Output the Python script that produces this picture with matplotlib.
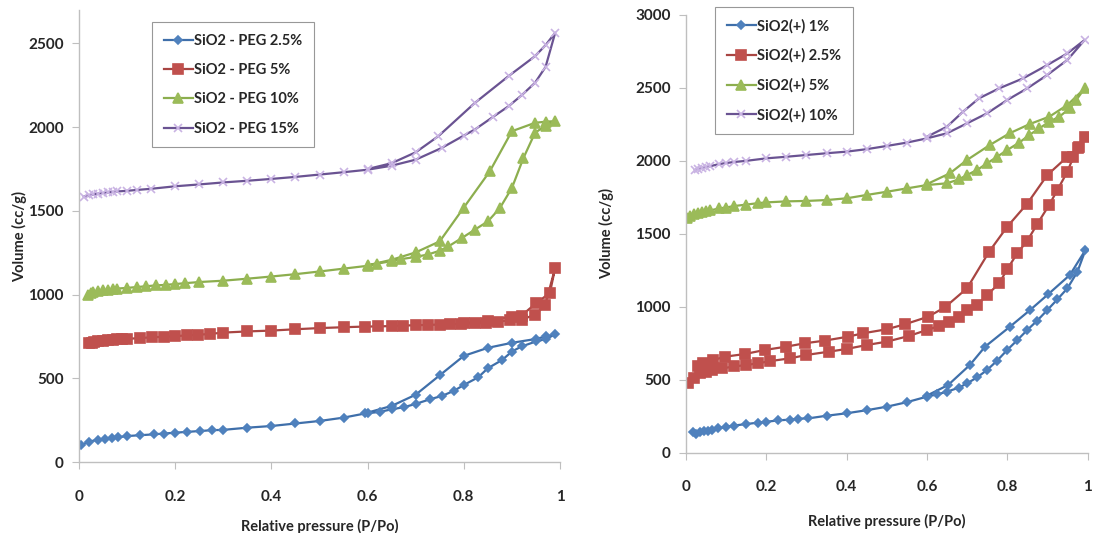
import matplotlib.pyplot as plt

plt.rcParams['font.family'] = ['Lato', 'DejaVu Sans']

# ---- left panel: SiO2 - PEG ----
peg_labels = ["SiO2 - PEG 2.5%", "SiO2 - PEG 5%", "SiO2 - PEG 10%", "SiO2 - PEG 15%"]

peg25_p = [0.005, 0.02, 0.04, 0.054, 0.068, 0.082, 0.10, 0.127, 0.155, 0.176, 0.20, 0.224, 0.252, 0.276, 0.30,
           0.35, 0.40, 0.45, 0.50, 0.55, 0.595, 0.625, 0.65, 0.675, 0.70, 0.73, 0.755, 0.78, 0.80, 0.83, 0.85,
           0.88, 0.90, 0.92, 0.95, 0.97, 0.99,
           0.97, 0.95, 0.90, 0.85, 0.80, 0.75, 0.70, 0.65, 0.60]
peg25_v = [100, 122, 132, 138, 143, 148, 155, 160, 165, 170, 175, 180, 185, 190, 192,
           205, 215, 230, 245, 265, 290, 299, 315, 327, 347, 375, 395, 426, 460, 506, 560,
           610, 660, 690, 720, 734, 762,
           750, 735, 712, 682, 634, 518, 402, 335, 295]

peg5_p = [0.02, 0.026, 0.032, 0.04, 0.05, 0.06, 0.07, 0.08, 0.09, 0.10, 0.127, 0.151, 0.176, 0.20, 0.224, 0.248,
          0.272, 0.30, 0.35, 0.40, 0.45, 0.50, 0.55, 0.594, 0.622, 0.65, 0.674, 0.70, 0.726, 0.75, 0.771, 0.795,
          0.823, 0.847, 0.872, 0.896, 0.92, 0.948, 0.969, 0.99,
          0.979, 0.951, 0.92, 0.90, 0.85, 0.80]
peg5_v = [710, 713, 716, 720, 724, 727, 730, 732, 734, 736, 740, 745, 748, 752, 756, 760,
          765, 773, 780, 785, 793, 800, 805, 809, 810, 812, 815, 817, 819, 821, 823, 825,
          828, 832, 838, 848, 850, 880, 935, 1160,
          1010, 950, 875, 868, 845, 830]

peg10_p = [0.019, 0.025, 0.03, 0.04, 0.05, 0.06, 0.07, 0.08, 0.10, 0.12, 0.14, 0.16, 0.18, 0.20, 0.22, 0.25,
           0.30, 0.35, 0.40, 0.45, 0.50, 0.55, 0.60, 0.62, 0.65, 0.67, 0.70, 0.726, 0.75, 0.768, 0.796, 0.823,
           0.85, 0.875, 0.90, 0.924, 0.948, 0.97, 0.99,
           0.97, 0.948, 0.90, 0.854, 0.80, 0.75, 0.70, 0.65, 0.60]
peg10_v = [1000, 1008, 1013, 1020, 1025, 1030, 1033, 1036, 1040, 1045, 1050, 1055, 1058, 1063, 1068, 1075,
           1083, 1095, 1108, 1122, 1138, 1155, 1172, 1185, 1200, 1212, 1225, 1240, 1262, 1288, 1338, 1388,
           1437, 1517, 1637, 1816, 1966, 2010, 2036,
           2033, 2026, 1976, 1736, 1520, 1318, 1252, 1208, 1175]

peg15_p = [0.01, 0.02, 0.03, 0.04, 0.05, 0.06, 0.07, 0.08, 0.10, 0.12, 0.15, 0.20, 0.25, 0.30, 0.35, 0.40,
           0.45, 0.50, 0.55, 0.60, 0.65, 0.70, 0.754, 0.80, 0.823, 0.86, 0.893, 0.92, 0.948, 0.97, 0.99,
           0.97, 0.948, 0.893, 0.823, 0.747, 0.70, 0.65, 0.60]
peg15_v = [1585, 1592, 1598, 1603, 1607, 1610, 1613, 1616, 1620, 1625, 1632, 1647, 1658, 1670, 1680, 1691,
           1703, 1717, 1731, 1746, 1770, 1806, 1876, 1950, 1986, 2060, 2125, 2190, 2265, 2360, 2564,
           2490, 2424, 2305, 2145, 1946, 1850, 1785, 1750]

# ---- right panel: SiO2(+) ----
plus_labels = ["SiO2(+) 1%", "SiO2(+) 2.5%", "SiO2(+) 5%", "SiO2(+) 10%"]

plus1_p = [0.018, 0.025, 0.035, 0.045, 0.055, 0.065, 0.08, 0.10, 0.12, 0.15, 0.18, 0.20, 0.23, 0.26, 0.28,
           0.305, 0.35, 0.40, 0.45, 0.50, 0.55, 0.60, 0.625, 0.65, 0.68, 0.70, 0.725, 0.75, 0.775, 0.80,
           0.825, 0.85, 0.875, 0.90, 0.925, 0.95, 0.975, 0.995,
           0.956, 0.902, 0.857, 0.807, 0.745, 0.707, 0.653, 0.60]
plus1_v = [143, 125, 138, 150, 145, 155, 165, 177, 185, 195, 205, 211, 220, 226, 232,
           234, 252, 269, 290, 314, 345, 383, 398, 417, 445, 474, 515, 566, 630, 703,
           770, 840, 905, 977, 1050, 1126, 1240, 1389,
           1217, 1085, 977, 863, 726, 600, 463, 390]

plus25_p = [0.006, 0.02, 0.035, 0.05, 0.065, 0.09, 0.12, 0.15, 0.18, 0.21, 0.26, 0.30, 0.355, 0.40, 0.45,
            0.50, 0.555, 0.60, 0.63, 0.655, 0.68, 0.70, 0.725, 0.75, 0.78, 0.80, 0.825, 0.85, 0.875, 0.905,
            0.925, 0.95, 0.965, 0.98, 0.993,
            0.977, 0.95, 0.90, 0.85, 0.80, 0.755, 0.70, 0.645, 0.603, 0.545, 0.50, 0.44, 0.403, 0.345,
            0.296, 0.25, 0.196, 0.146, 0.097, 0.068, 0.043, 0.03]
plus25_v = [474, 510, 543, 555, 565, 577, 590, 600, 612, 627, 646, 669, 691, 710, 737,
            760, 799, 840, 867, 897, 931, 977, 1011, 1080, 1160, 1256, 1366, 1452, 1567, 1700,
            1800, 1926, 2028, 2097, 2166,
            2086, 2028, 1903, 1707, 1548, 1377, 1126, 996, 931, 879, 845, 817, 794, 767,
            749, 726, 703, 675, 657, 634, 612, 590]

plus5_p = [0.002, 0.01, 0.02, 0.03, 0.04, 0.05, 0.06, 0.083, 0.10, 0.12, 0.15, 0.18, 0.20, 0.25, 0.30,
           0.35, 0.40, 0.45, 0.50, 0.55, 0.60, 0.65, 0.68, 0.70, 0.725, 0.75, 0.775, 0.80, 0.83, 0.855,
           0.88, 0.905, 0.93, 0.956, 0.972, 0.993,
           0.95, 0.905, 0.856, 0.806, 0.757, 0.70, 0.657, 0.60]
plus5_v = [1606, 1625, 1635, 1645, 1650, 1655, 1660, 1674, 1680, 1690, 1700, 1710, 1715, 1722, 1725,
           1731, 1743, 1766, 1788, 1811, 1834, 1846, 1873, 1903, 1937, 1983, 2028, 2074, 2125, 2177,
           2223, 2268, 2303, 2360, 2417, 2497,
           2383, 2303, 2252, 2189, 2109, 2006, 1914, 1840]

plus10_p = [0.022, 0.03, 0.04, 0.05, 0.06, 0.083, 0.10, 0.12, 0.15, 0.20, 0.25, 0.30, 0.35, 0.40, 0.45,
            0.50, 0.55, 0.60, 0.65, 0.70, 0.75, 0.80, 0.85, 0.90, 0.95, 0.993,
            0.95, 0.90, 0.84, 0.78, 0.73, 0.69, 0.65, 0.60]
plus10_v = [1937, 1945, 1952, 1958, 1963, 1978, 1985, 1992, 2000, 2017, 2028, 2040, 2052, 2063, 2080,
            2102, 2125, 2154, 2189, 2257, 2326, 2417, 2497, 2589, 2692, 2829,
            2737, 2657, 2566, 2497, 2429, 2337, 2234, 2165]

# line colour, marker colour, marker, marker size
styles = [
    ("#3F6FAA", "#4F81BD", "D", 4.5),
    ("#A84542", "#C0504D", "s", 6.5),
    ("#8CAE4E", "#9BBB59", "^", 6.5),
    ("#6A5392", "#C9B3E3", "x", 5.5),
]

text_color = "#262626"
spine_color = "#BFBFBF"

fig = plt.figure(figsize=(10.96, 5.33), dpi=100)
ax1 = fig.add_axes([79 / 1096, 1 - 462 / 533, 481 / 1096, 452 / 533])
ax2 = fig.add_axes([686 / 1096, 1 - 452.5 / 533, 401.5 / 1096, 437.5 / 533])


def draw_panel(ax, series, labels, ymax, legend_xy, xlabel_y):
    for (p, v), label, (lc, mc, m, ms) in zip(series, labels, styles):
        ax.plot(p, v, color=lc, lw=1.6, marker=m, markersize=ms, markerfacecolor=mc,
                markeredgecolor=mc, markeredgewidth=1.2, label=label)
    ax.set_xlim(0, 1)
    ax.set_ylim(0, ymax)
    ax.set_xticks([0, 0.2, 0.4, 0.6, 0.8, 1])
    ax.set_xticklabels(["0", "0.2", "0.4", "0.6", "0.8", "1"])
    ax.set_yticks(range(0, int(ymax) + 1, 500))
    for side in ["top", "right"]:
        ax.spines[side].set_visible(False)
    for side in ["left", "bottom"]:
        ax.spines[side].set_color(spine_color)
        ax.spines[side].set_linewidth(1.0)
    ax.tick_params(axis="x", colors=spine_color, length=5, pad=15, labelsize=11, labelcolor=text_color)
    ax.tick_params(axis="y", colors=spine_color, length=5, pad=6, labelsize=11, labelcolor=text_color)
    for t in ax.get_xticklabels() + ax.get_yticklabels():
        t.set_fontweight("bold")
    ax.set_xlabel("Relative pressure (P/Po)", fontsize=10.5, fontweight="bold", color=text_color,
                  va="center")
    ax.xaxis.set_label_coords(0.5, xlabel_y)
    ax.set_ylabel("Volume (cc/g)", fontsize=10.5, fontweight="bold", color=text_color)
    leg = ax.legend(loc="upper left", bbox_to_anchor=legend_xy, bbox_transform=fig.transFigure,
                    fontsize=10.5, frameon=True, fancybox=False, handlelength=2.0,
                    handletextpad=0.1, labelspacing=1.05, borderpad=0.8, borderaxespad=0)
    leg.get_frame().set_edgecolor("#7F7F7F")
    leg.get_frame().set_linewidth(0.8)
    for t in leg.get_texts():
        t.set_fontweight("bold")
        t.set_color(text_color)


draw_panel(ax1,
           [(peg25_p, peg25_v), (peg5_p, peg5_v), (peg10_p, peg10_v), (peg15_p, peg15_v)],
           peg_labels, 2700, (152 / 1096, 1 - 22 / 533), -0.143)
draw_panel(ax2,
           [(plus1_p, plus1_v), (plus25_p, plus25_v), (plus5_p, plus5_v), (plus10_p, plus10_v)],
           plus_labels, 3000, (715 / 1096, 1 - 7 / 533), -0.158)

ax1.yaxis.set_label_coords(-0.108, 0.5)
ax2.yaxis.set_label_coords(-0.18, 0.5)

fig.savefig("out.png", dpi=100)
